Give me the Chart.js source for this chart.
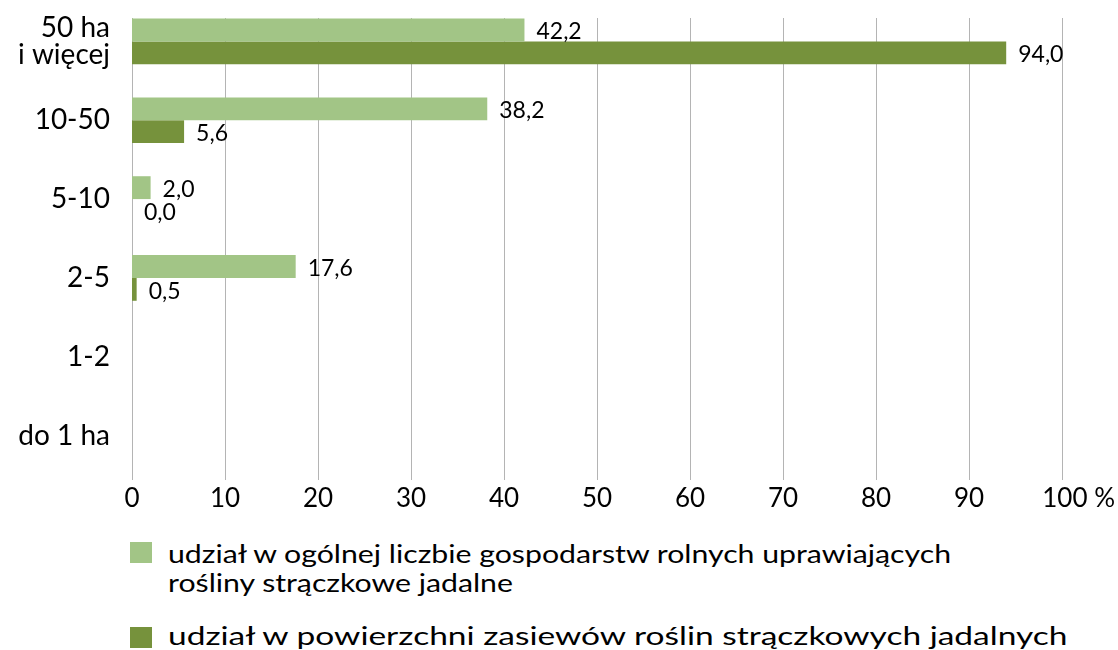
<!DOCTYPE html>
<html>
<head>
<meta charset="utf-8">
<script src="https://cdn.jsdelivr.net/npm/chart.js@4/dist/chart.umd.min.js"></script>
<style>
  body { margin: 0; background: #fff; font-family: Lato, sans-serif; }
  #wrap { position: relative; width: 1118px; height: 650px; overflow: hidden; }
  #box { position: absolute; left: 0; top: 0; width: 1118px; height: 520px; }
  .kw { position: absolute; left: 130px; width: 22px; height: 21px; }
  .txt { position: absolute; left: 168px; font-size: 25px; line-height: 29px; color: #000; white-space: nowrap; transform-origin: 0 0; }
</style>
</head>
<body>
<div id="wrap">
  <div id="box"><canvas id="wykres"></canvas></div>
  <div class="kw" style="top:542px; background:#a2c586"></div>
  <div class="txt" style="top:539px; transform:scaleX(1.21)">udział w ogólnej liczbie gospodarstw rolnych uprawiających<br>rośliny strączkowe jadalne</div>
  <div class="kw" style="top:627px; background:#76923c"></div>
  <div class="txt" style="top:621px; transform:scaleX(1.34)">udział w powierzchni zasiewów roślin strączkowych jadalnych</div>
</div>
<script>
var grupy = [['50 ha', 'i więcej'], '10-50', '5-10', '2-5', '1-2', 'do 1 ha'];
var udzialGosp = [42.2, 38.2, 2.0, 17.6, null, null];
var udzialPow = [94.0, 5.6, 0.0, 0.5, null, null];
var osX = [0, 10, 20, 30, 40, 50, 60, 70, 80, 90, 100];

// pionowe linie siatki (zaczynaja sie nieco ponizej gory obszaru)
var siatka = {
    id: 'siatka',
    beforeDatasetsDraw: function (chart) {
        var ctx = chart.ctx, a = chart.chartArea, sx = chart.scales.x;
        ctx.save();
        ctx.strokeStyle = '#b4b4b4';
        ctx.lineWidth = 1;
        osX.forEach(function (v) {
            var x = Math.round(sx.getPixelForValue(v)) + 0.5;
            ctx.beginPath();
            ctx.moveTo(x, a.top + 16);
            ctx.lineTo(x, a.bottom + 5);
            ctx.stroke();
        });
        ctx.restore();
    }
};

// etykiety wartosci przy koncach slupkow
var etykiety = {
    id: 'etykiety',
    afterDatasetsDraw: function (chart) {
        var ctx = chart.ctx;
        ctx.save();
        ctx.font = '23px Lato';
        ctx.fillStyle = '#000';
        ctx.textAlign = 'left';
        ctx.textBaseline = 'middle';
        chart.data.datasets.forEach(function (ds, i) {
            chart.getDatasetMeta(i).data.forEach(function (bar, j) {
                var v = ds.data[j];
                if (v === null) return;
                ctx.fillText(v.toFixed(1).replace('.', ','), bar.x + 12, bar.y + 2);
            });
        });
        ctx.restore();
    }
};

var ctx = document.getElementById('wykres');
new Chart(ctx, {
    type: 'bar',
    data: {
        labels: grupy,
        datasets: [
            { label: 'udział w ogólnej liczbie gospodarstw rolnych uprawiających rośliny strączkowe jadalne', data: udzialGosp, backgroundColor: '#a2c586' },
            { label: 'udział w powierzchni zasiewów roślin strączkowych jadalnych', data: udzialPow, backgroundColor: '#76923c' }
        ]
    },
    options: {
        indexAxis: 'y',
        responsive: true,
        maintainAspectRatio: false,
        animation: false,
        categoryPercentage: 0.58,
        barPercentage: 1,
        layout: { padding: { top: 2, right: 56, left: 0, bottom: 0 } },
        plugins: { legend: { display: false }, tooltip: { enabled: false } },
        scales: {
            x: {
                min: 0,
                max: 100,
                afterBuildTicks: function (axis) {
                    axis.ticks = osX.map(function (v) { return { value: v }; });
                },
                afterFit: function (axis) {
                    axis.height = 45;
                    axis.paddingLeft = 0;
                    axis.paddingRight = 0;
                },
                grid: { display: false, tickLength: 5 },
                border: { display: false },
                ticks: {
                    color: '#000',
                    font: { family: 'Lato', size: 26 },
                    padding: 3,
                    autoSkip: false,
                    maxRotation: 0,
                    callback: function (v) { return v === 100 ? '     100 %' : v; }
                }
            },
            y: {
                afterFit: function (axis) {
                    axis.width = 132;
                    axis.paddingTop = 0;
                    axis.paddingBottom = 0;
                },
                grid: { display: false, drawTicks: false },
                border: { display: false },
                ticks: {
                    color: '#000',
                    font: { family: 'Lato', size: 28, lineHeight: 0.95 },
                    padding: 22
                }
            }
        }
    },
    plugins: [siatka, etykiety]
});
</script>
</body>
</html>
